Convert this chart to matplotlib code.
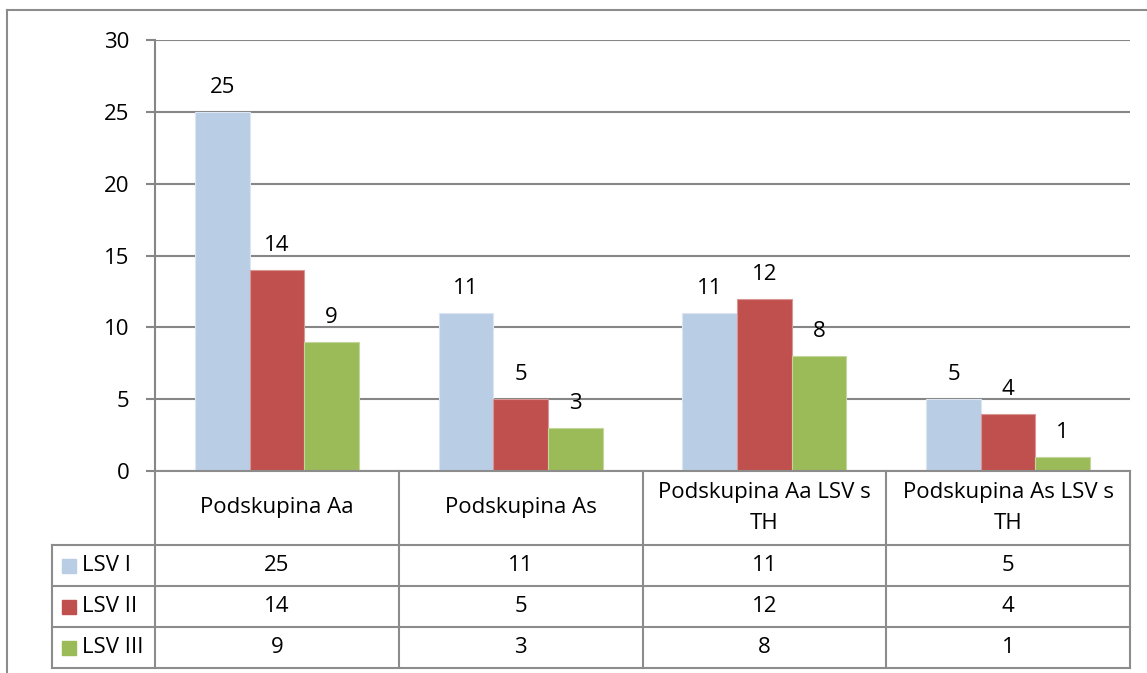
import matplotlib
matplotlib.use("Agg")
import matplotlib.pyplot as plt
from matplotlib.patches import Rectangle
from matplotlib.lines import Line2D
import numpy as np

categories = ["Podskupina Aa", "Podskupina As", "Podskupina Aa LSV s\nTH", "Podskupina As LSV s\nTH"]
series_names = ["LSV I", "LSV II", "LSV III"]
lsv1 = [25, 11, 11, 5]
lsv2 = [14, 5, 12, 4]
lsv3 = [9, 3, 8, 1]
colors = ["#B9CDE5", "#C0504D", "#9BBB59"]
edge_colors = ["#DCE6F2", "#D99694", "#C3D69B"]
yticks = [0, 5, 10, 15, 20, 25, 30]

W, H = 1147, 673
plt.rcParams['font.family'] = ['Open Sans', 'DejaVu Sans']
fig = plt.figure(figsize=(W / 100, H / 100), dpi=100)

def fx(px):
    return px / W

def fy(py):
    return 1 - py / H

L, R, T, B = 155, 1130, 40, 471
ax = fig.add_axes([fx(L), fy(B), fx(R) - fx(L), fy(T) - fy(B)])
grid_c = "#868686"
fs = 16

series = [lsv1, lsv2, lsv3]
n = len(categories)
x = np.arange(n)
bw = 0.224
for i, (vals, c, ec) in enumerate(zip(series, colors, edge_colors)):
    pos = x + (i - 1) * bw
    ax.bar(pos, vals, width=bw, color=c, edgecolor=ec, linewidth=0.8, zorder=3)
    for p, v in zip(pos, vals):
        ax.annotate(str(v), (p, v), xytext=(0, 10), textcoords="offset points",
                    ha="center", va="bottom", fontsize=fs, zorder=4)

ax.set_xlim(-0.5, n - 0.5)
ax.set_ylim(0, 30)
ax.set_yticks(yticks)
ax.set_yticklabels([str(t) for t in yticks], fontsize=fs)
ax.set_xticks([])
ax.grid(axis="y", color=grid_c, linewidth=1.5, zorder=0)
for s in ["top", "right", "bottom"]:
    ax.spines[s].set_visible(False)
ax.spines["left"].set_color(grid_c)
ax.spines["left"].set_linewidth(1.5)
ax.tick_params(axis="y", length=6.5, width=1.5, color=grid_c, pad=12)

# overlay axes in pixel coordinates for the data table and frame
ov = fig.add_axes([0, 0, 1, 1])
ov.set_xlim(0, W)
ov.set_ylim(H, 0)
ov.axis("off")

lc = "#8C8C8C"
lw = 1.5
col_edges = [L + (R - L) * k / n for k in range(n + 1)]
leg_left = 52
row_edges = [471, 545, 586, 627, 668]

# outer frame
ov.add_line(Line2D([7, 7], [10, H], color=lc, lw=lw))
ov.add_line(Line2D([7, W], [10, 10], color=lc, lw=lw))

# horizontal lines of table
ov.add_line(Line2D([L, R], [row_edges[0], row_edges[0]], color=lc, lw=lw))
for ry in row_edges[1:]:
    ov.add_line(Line2D([leg_left, R], [ry, ry], color=lc, lw=lw))
# vertical lines
ov.add_line(Line2D([leg_left, leg_left], [row_edges[1], row_edges[-1]], color=lc, lw=lw))
for cx in col_edges:
    ov.add_line(Line2D([cx, cx], [row_edges[0], row_edges[-1]], color=lc, lw=lw))

# header text
for k, cat in enumerate(categories):
    cx = (col_edges[k] + col_edges[k + 1]) / 2
    cy = (row_edges[0] + row_edges[1]) / 2
    ov.text(cx, cy, cat, ha="center", va="center", fontsize=fs, linespacing=1.65)

# rows
for r, (name, vals, c) in enumerate(zip(series_names, series, colors)):
    cy = (row_edges[r + 1] + row_edges[r + 2]) / 2
    ov.add_patch(Rectangle((62, cy - 7), 14, 14, color=c))
    ov.text(82, cy, name, ha="left", va="center", fontsize=fs)
    for k, v in enumerate(vals):
        cx = (col_edges[k] + col_edges[k + 1]) / 2
        ov.text(cx, cy, str(v), ha="center", va="center", fontsize=fs)

fig.savefig("out.png", dpi=100)
